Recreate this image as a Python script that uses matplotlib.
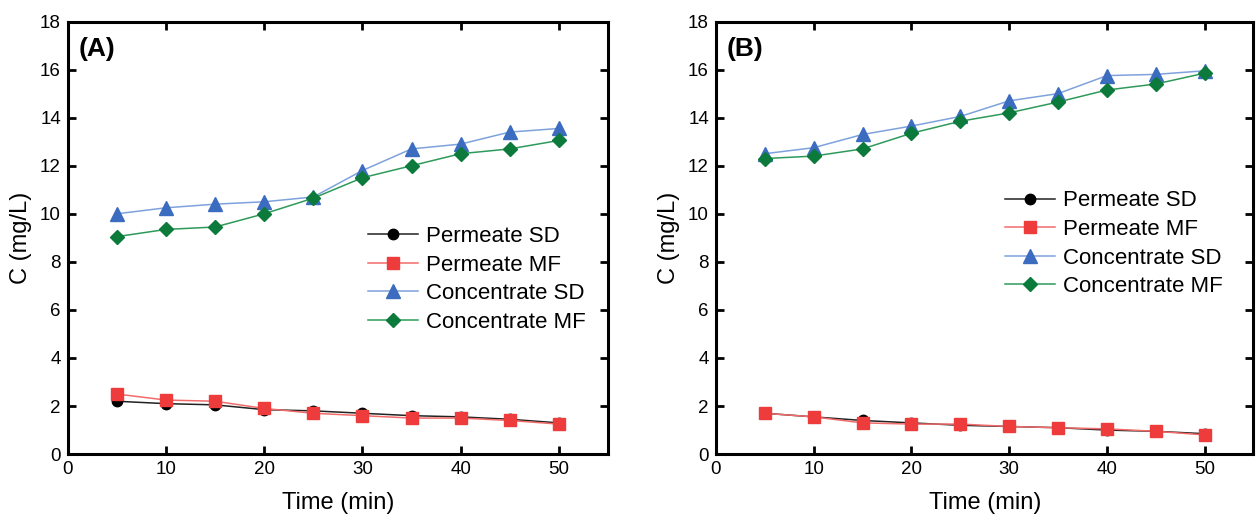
import numpy as np
import matplotlib.pyplot as plt

plt.rcParams['font.family'] = ['Liberation Sans', 'DejaVu Sans']

time_min = [5, 10, 15, 20, 25, 30, 35, 40, 45, 50]

# panel A
a_perm_sd = [2.2, 2.1, 2.05, 1.85, 1.8, 1.7, 1.6, 1.55, 1.45, 1.3]
a_perm_mf = [2.5, 2.25, 2.2, 1.9, 1.7, 1.6, 1.5, 1.5, 1.4, 1.25]
a_conc_sd = [10.0, 10.25, 10.4, 10.5, 10.7, 11.8, 12.7, 12.9, 13.4, 13.55]
a_conc_mf = [9.05, 9.35, 9.45, 10.0, 10.65, 11.5, 12.0, 12.5, 12.7, 13.05]

# panel B
b_perm_sd = [1.7, 1.55, 1.4, 1.3, 1.2, 1.15, 1.1, 1.0, 0.95, 0.85]
b_perm_mf = [1.7, 1.55, 1.3, 1.25, 1.25, 1.15, 1.1, 1.05, 0.95, 0.8]
b_conc_sd = [12.5, 12.75, 13.3, 13.65, 14.05, 14.7, 15.0, 15.75, 15.8, 15.95]
b_conc_mf = [12.3, 12.4, 12.7, 13.35, 13.85, 14.2, 14.65, 15.15, 15.4, 15.85]

labels = ['Permeate SD', 'Permeate MF', 'Concentrate SD', 'Concentrate MF']
# (line colour, marker colour, marker, size)
styles = [('#222222', 'black', 'o', 7.5),
          ('#f26b6b', '#ee3b3b', 's', 8),
          ('#7fa2dd', '#3b6cc0', '^', 9.5),
          ('#2e9a5a', '#0b7a3b', 'D', 7.5)]

fig = plt.figure(figsize=(12.56, 5.25), dpi=100)
ax1 = fig.add_axes([0.054, 0.135, 0.430, 0.824])
ax2 = fig.add_axes([0.570, 0.135, 0.428, 0.824])

panels = [(ax1, '(A)', [a_perm_sd, a_perm_mf, a_conc_sd, a_conc_mf], (0.539, 0.548)),
          (ax2, '(B)', [b_perm_sd, b_perm_mf, b_conc_sd, b_conc_mf], (0.522, 0.630))]

for ax, tag, series, legpos in panels:
    for ys, lab, (lc, mc, mk, ms) in zip(series, labels, styles):
        ax.plot(time_min, ys, color=lc, lw=1.1, marker=mk, ms=ms,
                mfc=mc, mec=mc, label=lab)
    ax.set_xlim(0, 55)
    ax.set_ylim(0, 18)
    ax.set_xticks([0, 10, 20, 30, 40, 50])
    ax.set_yticks(np.arange(0, 19, 2))
    ax.tick_params(direction='in', top=True, right=True, length=6, width=2,
                   labelsize=13.5, pad=5)
    for s in ax.spines.values():
        s.set_linewidth(2.2)
    ax.set_xlabel('Time (min)', fontsize=17, labelpad=10)
    ax.set_ylabel('C (mg/L)', fontsize=17, labelpad=6)
    ax.text(0.02, 0.965, tag, transform=ax.transAxes, fontsize=19,
            fontweight='bold', va='top', ha='left')
    ax.legend(loc='upper left', bbox_to_anchor=legpos, frameon=False,
              fontsize=16, handlelength=2.25, handletextpad=0.36,
              labelspacing=0.34, borderaxespad=0)

fig.savefig('out.png', dpi=100)
